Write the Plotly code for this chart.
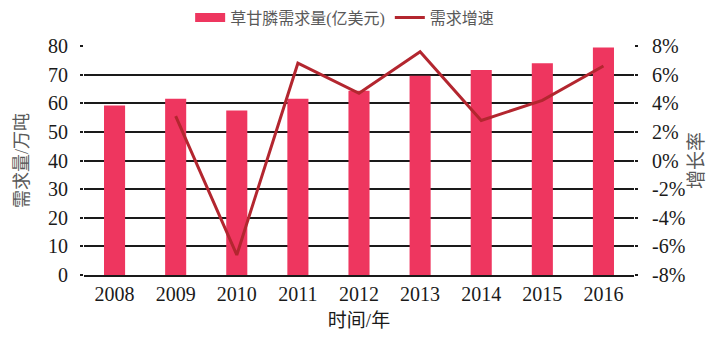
import plotly.graph_objects as go

years = ["2008", "2009", "2010", "2011", "2012", "2013", "2014", "2015", "2016"]
demand = [59.2, 61.6, 57.5, 61.6, 64.4, 69.6, 71.6, 74.0, 79.5]
growth_years = ["2009", "2010", "2011", "2012", "2013", "2014", "2015", "2016"]
growth = [3.1, -6.6, 6.8, 4.7, 7.6, 2.8, 4.2, 6.6]
left_ticks = [0, 10, 20, 30, 40, 50, 60, 70, 80]
right_tickvals = [-8, -6, -4, -2, 0, 2, 4, 6, 8]
right_ticktext = ["-8%", "-6%", "-4%", "-2%", "0%", "2%", "4%", "6%", "8%"]

FONT = "Liberation Serif, Noto Sans CJK SC"
BAR_COLOR = "#EE365F"
LINE_COLOR = "#B3262F"

fig = go.Figure()
fig.add_trace(go.Bar(
    x=years, y=demand, name="草甘膦需求量(亿美元)", showlegend=False,
    marker=dict(color=BAR_COLOR, line=dict(width=0)), width=0.345,
))
# legend proxy for the bars (wide rectangle swatch)
fig.add_trace(go.Scatter(
    x=[None], y=[None], name="草甘膦需求量(亿美元)", mode="lines",
    line=dict(color=BAR_COLOR, width=9),
))
fig.add_trace(go.Scatter(
    x=growth_years, y=growth, name="需求增速", yaxis="y2", mode="lines",
    line=dict(color=LINE_COLOR, width=3),
))

fig.update_layout(
    width=721, height=340,
    margin=dict(l=84, r=87, t=46, b=65, autoexpand=False),
    paper_bgcolor="white", plot_bgcolor="white",
    font=dict(family=FONT, size=20, color="#1a1a1a"),
    showlegend=True,
    legend=dict(orientation="h", x=0.193, y=1.05, xanchor="left", yanchor="bottom",
                font=dict(size=16, color="#595959", family=FONT),
                bgcolor="rgba(0,0,0,0)", tracegroupgap=0),
    xaxis=dict(
        type="category", range=[-0.5, 8.5], showline=True, linecolor="#1a1a1a", linewidth=1.5,
        ticks="", showgrid=False,
        title=dict(text="时间/年", font=dict(size=19, family=FONT, color="#1a1a1a"), standoff=10),
        tickfont=dict(size=20),
    ),
    yaxis=dict(
        range=[0, 80], tickvals=left_ticks, showgrid=True, gridcolor="#1a1a1a", gridwidth=1.5,
        zeroline=False, ticks="outside", ticklen=3, tickwidth=1.5, tickcolor="#1a1a1a",
        ticklabelstandoff=8,
        title=dict(text="需求量/万吨", font=dict(size=18, family=FONT, color="#595959"), standoff=14),
        tickfont=dict(size=20),
    ),
    yaxis2=dict(
        range=[-8, 8], overlaying="y", side="right", tickvals=right_tickvals, ticktext=right_ticktext,
        showgrid=False, zeroline=False, ticks="outside", ticklen=3, tickwidth=1.5, tickcolor="#1a1a1a",
        ticklabelstandoff=10,
        title=dict(text="增长率", font=dict(size=19, family=FONT, color="#595959"), standoff=5),
        tickfont=dict(size=20),
    ),
)

fig.write_html("out.html")
